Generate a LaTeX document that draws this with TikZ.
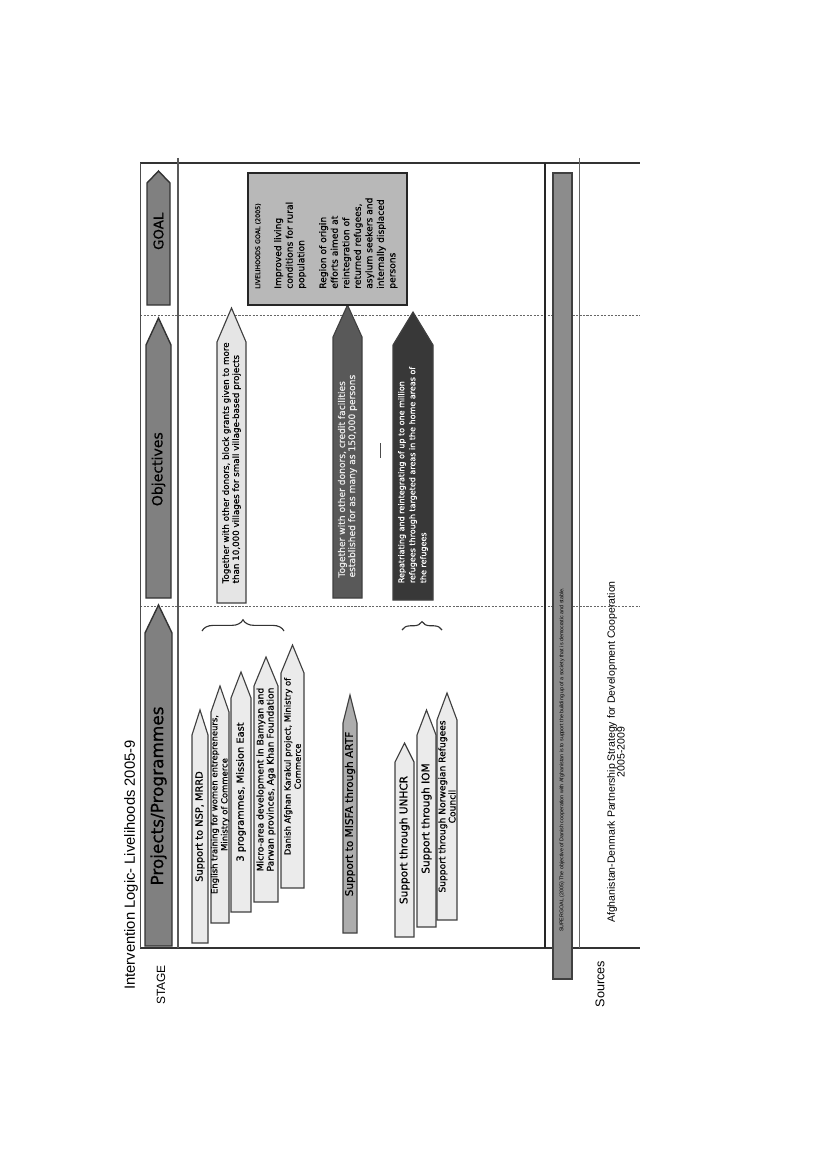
\documentclass[tikz,border=0pt]{standalone}
\usepackage{fontspec}
\setmainfont{Liberation Sans}
\newfontfamily\boxfont[FakeBold=0.6]{DejaVu Sans}
\usetikzlibrary{decorations.pathreplacing}

\newcommand{\boxsize}[2]{\boxfont\fontsize{#1}{#2}\selectfont}
% name, shape style, left x, right x, bottom y, shoulder y, tip y, text style, text
\newcommand{\stagearrow}[9]{%
  \draw[#2] (#3,#5) -- (#3,#6) -- ({(#3+#4)/2},#7) -- (#4,#6) -- (#4,#5) -- cycle;
  \path ({(#3+#4)/2},#5) -- node[lbl,pos=0.5,#8] (#1) {#9} ({(#3+#4)/2},#7);}

\begin{document}
\begin{tikzpicture}[
  x=0.025cm, y=-0.025cm,
  lbl/.style={rotate=90,inner sep=0pt,align=center,font=\boxsize{6.5}{7.2}},
  hdr/.style={draw=black!80,fill=black!50,line width=1pt},
  prj/.style={draw=black!75,fill=black!8,line width=0.8pt},
  grid/.style={draw=black!80,line width=0.9pt},
  colsep/.style={draw=black!60,dash pattern=on 1.5pt off 1pt,line width=0.5pt},
  brc/.style={decorate,decoration={brace,amplitude=8pt},draw=black!80,line width=0.8pt},
  side/.style={rotate=90,inner sep=0pt}
]
  \useasboundingbox (0,0) rectangle (826,1169);

  \node[side,font=\fontsize{10.5}{12}\selectfont] (title) at (131,865) {Intervention Logic- Livelihoods 2005-9};
  \node[side,font=\fontsize{8.5}{10}\selectfont] (stage) at (161,985) {STAGE};
  \node[side,font=\fontsize{9}{10}\selectfont] (sources) at (600,984) {Sources};

  % frame of the table
  \draw[colsep] (140,315) -- (640,315);
  \draw[colsep] (140,606) -- (640,606);
  \draw[grid,line width=1.4pt] (140,163) -- (640,163);
  \draw[grid] (140,948) -- (640,948);
  \draw[black!70,line width=0.6pt] (140,163) -- (140,948);
  \draw[black!65,line width=2pt] (178,158) -- (178,948);
  \draw[black!85,line width=1.2pt] (545,163) -- (545,948);
  \draw[black!60,line width=0.6pt] (579,158) -- (579,948);

  % stage row
  \stagearrow{hproj}{hdr}{145}{172}{946}{633}{605}{pos=0.44,font=\boxsize{12}{14}}{Projects/Programmes}
  \stagearrow{hobj}{hdr}{146}{171}{598}{345}{318}{pos=0.46,font=\boxsize{10}{12}}{Objectives}
  \stagearrow{hgoal}{hdr}{147}{170}{305}{183}{171}{pos=0.55,font=\boxsize{9.5}{12}}{GOAL}

  % projects / programmes
  \stagearrow{nsp}{prj}{192}{208}{943}{735}{710}{font=\boxsize{7}{7.2}}{Support to NSP, MRRD}
  \stagearrow{english}{prj}{211}{229}{923}{712}{686}{font=\boxsize{6}{7.2}}{English training for women entrepreneurs,\\ Ministry of Commerce}
  \stagearrow{mission}{prj}{231}{251}{912}{698}{672}{font=\boxsize{7}{7.2}}{3 programmes, Mission East}
  \stagearrow{microarea}{prj}{254}{278}{902}{686}{657}{font=\boxsize{6.5}{7.2}}{Micro-area development in Bamyan and\\ Parwan provinces, Aga Khan Foundation}
  \stagearrow{karakul}{prj}{281}{304}{888}{673}{645}{font=\boxsize{6}{7.2}}{Danish Afghan Karakul project, Ministry of\\ Commerce}
  \stagearrow{misfa}{prj,fill=black!32}{343}{357}{933}{723}{695}{font=\boxsize{7.5}{8}}{Support to MISFA through ARTF}
  \stagearrow{unhcr}{prj}{395}{414}{937}{762}{743}{font=\boxsize{7.5}{8}}{Support through UNHCR}
  \stagearrow{iom}{prj}{417}{436}{927}{735}{710}{font=\boxsize{7.5}{8}}{Support through IOM}
  \stagearrow{nrc}{prj}{437}{457}{920}{720}{693}{font=\boxsize{6.5}{7.2}}{Support through Norwegian Refugees\\ Council}

  \draw[brc] (202,631) -- (284,631);
  \draw[brc,decoration={amplitude=6pt}] (402,630) -- (442,630);

  % objectives
  \stagearrow{blockgrants}{prj,fill=black!10}{217}{246}{603}{342}{308}{pos=0.475,align=left,font=\boxsize{6.2}{7.2}}{Together with other donors, block grants given to more\\ than 10,000 villages for small village-based projects}
  \stagearrow{credit}{prj,fill=black!65}{333}{362}{598}{337}{305}{pos=0.416,align=left,text=black!8,font=\boxsize{6.5}{7.2}}{Together with other donors, credit facilities\\ established for as many as 150,000 persons}
  \stagearrow{repatriation}{prj,fill=black!78}{393}{433}{600}{345}{312}{pos=0.434,align=left,text=white,font=\boxsize{5.7}{7.8}}{Repatriating and reintegrating of up to one million\\ refugees through targeted areas in the home areas of\\ the refugees}
  \draw[black!70,line width=0.6pt] (380,443) -- (380,458);

  % goal
  \node[draw=black!85,fill=black!28,line width=1.2pt,minimum width=3.975cm,minimum height=3.3cm,inner sep=0pt] (goal) at (327.5,239) {};
  \node[side,anchor=north west,align=left,font=\boxsize{6.5}{8.2}] (goaltext) at (255,289)
    {{\fontsize{4.5}{5}\selectfont LIVELIHOODS GOAL (2005)}\\[6.8pt]
     Improved living\\ conditions for rural\\ population\\[7.4pt]
     Region of origin\\ efforts aimed at\\ reintegration of\\ returned refugees,\\ asylum seekers and\\ internally displaced\\ persons};

  % supergoal and sources
  \node[draw=black!75,fill=black!45,line width=1pt,minimum width=0.475cm,minimum height=20.15cm,inner sep=0pt] (supergoal) at (562.5,576) {};
  \node[side,font=\fontsize{3.8}{4}\selectfont] (supergoaltext) at (562,760) {SUPERGOAL (2005) The objective of Danish cooperation with Afghanistan is to support the building up of a society that is democratic and stable.};
  \node[side,align=center,font=\fontsize{7.5}{7}\selectfont] (strategy) at (616,752) {Afghanistan-Denmark Partnership Strategy for Development Cooperation\\ 2005-2009};
\end{tikzpicture}
\end{document}
